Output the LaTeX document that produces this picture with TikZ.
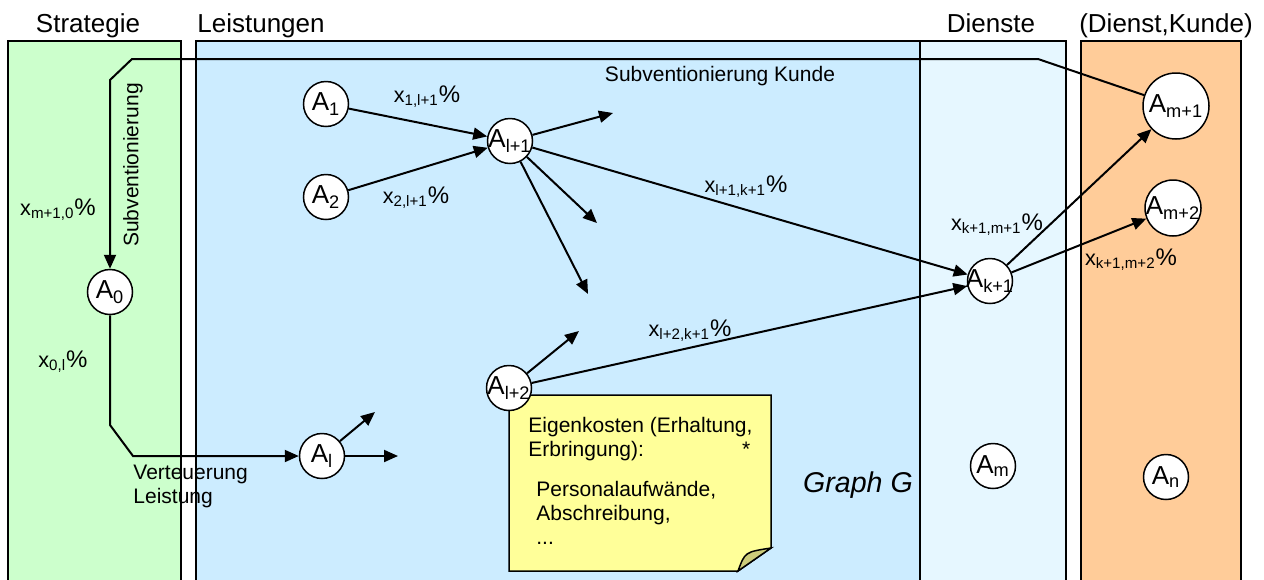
\documentclass[tikz,border=0pt]{standalone}
\usepackage{fontspec}
\setmainfont{Liberation Sans}
\usetikzlibrary{arrows.meta}

\definecolor{stratgreen}{HTML}{CCFFCC}
\definecolor{leistblue}{HTML}{CCECFF}
\definecolor{dienstblue}{HTML}{E6F7FF}
\definecolor{kundeorange}{HTML}{FFCC99}
\definecolor{noteyellow}{HTML}{FFFF99}
\definecolor{notefold}{HTML}{CCCC7A}

\newcommand{\Atext}[1]{\makebox[0pt]{A\textsubscript{#1}}}
\newcommand{\xpct}[1]{x\textsubscript{#1}{\fontsize{12}{14}\selectfont\%}}

\tikzset{
  anode/.style={circle, draw, fill=white, line width=0.75pt, minimum size=22.5pt,
    inner sep=0pt, font=\fontsize{13}{15}\selectfont},
  flow/.style={line width=1pt, -{Triangle[length=7pt, width=6pt]}},
  column/.style={draw, line width=0.75pt},
  coltitle/.style={font=\fontsize{13}{15}\selectfont, inner sep=0pt},
  lbl/.style={font=\fontsize{10.5}{12}\selectfont, inner sep=0pt},
  xlbl/.style={font=\fontsize{10.8}{12}\selectfont, inner sep=0pt, anchor=base},
}

\begin{document}
\begin{tikzpicture}[x=0.5pt, y=-0.5pt]
      \useasboundingbox (0, 0) rectangle (1264, 579);

      % columns
      \draw [column, fill=stratgreen] (8, 41) rectangle (181, 600);
      \draw [column, fill=leistblue] (196, 41) rectangle (920, 600);
      \draw [column, fill=dienstblue] (920, 41) rectangle (1066, 600);
      \draw [column, fill=kundeorange] (1081, 41) rectangle (1241, 600);

      \node [coltitle, anchor=base] (tstrat) at (88, 32) {Strategie};
      \node [coltitle, anchor=base west] (tleist) at (197, 32) {Leistungen};
      \node [coltitle, anchor=base] (tdienst) at (991, 32) {Dienste};
      \node [coltitle, anchor=base] (tkunde) at (1166, 32) {(Dienst,Kunde)};

      % note
      \draw [line width=0.75pt, fill=noteyellow] (509, 395) -- (771, 395) -- (771, 548)
            -- (738, 571) -- (509, 571) -- cycle;
      \draw [line width=0.75pt, fill=notefold] (738, 571) .. controls (745, 552) .. (771, 548) -- cycle;
      \node [lbl, anchor=north west, align=left] (ntop) at (528, 417)
            {Eigenkosten (Erhaltung,\\\makebox[111pt][l]{Erbringung):\hfill*}};
      \node [lbl, anchor=north west, align=left] (nbot) at (536, 481)
            {Personalaufwände,\\Abschreibung,\\...};

      \node [font=\fontsize{14.3}{16}\selectfont\itshape, inner sep=0pt, anchor=base] (graph) at (858, 492) {Graph G};

      % nodes
      \node [anode] (a0) at (110, 292) {\Atext{0}};
      \node [anode] (a1) at (326, 104) {\Atext{1}};
      \node [anode] (a2) at (326, 197) {\Atext{2}};
      \node [anode] (al) at (322, 456) {\Atext{l}};
      \node [anode] (al1) at (510, 141) {\Atext{l+1}};
      \node [anode] (al2) at (509, 388) {\Atext{l+2}};
      \node [anode] (ak1) at (990, 281) {\Atext{k+1}};
      \node [anode] (am) at (993, 466) {\Atext{m}};
      \node [anode, minimum size=33pt] (am1) at (1176, 106) {\Atext{m+1}};
      \node [anode, minimum size=28pt] (am2) at (1173, 208) {\Atext{m+2}};
      \node [anode] (an) at (1166, 477) {\Atext{n}};

      % free ends and bends
      \coordinate (s1) at (613, 113);
      \coordinate (s2) at (597, 223);
      \coordinate (s3) at (588, 294);
      \coordinate (s4) at (579, 331);
      \coordinate (s5) at (375, 412);
      \coordinate (s6) at (398, 456);
      \coordinate (sk1) at (1038, 59);
      \coordinate (sk2) at (132, 59);
      \coordinate (sk3) at (110, 80);
      \coordinate (vt1) at (110, 425);
      \coordinate (vt2) at (133, 456);

      % edges
      \draw [flow] (a1) -- (al1);
      \draw [flow] (a2) -- (al1);
      \foreach \t in {s1, s2, s3}
               {
                 \draw [flow] (al1) -- (\t);
               }
      \draw [flow] (al1) -- (ak1);
      \draw [flow] (al2) -- (ak1);
      \draw [flow] (al2) -- (s4);
      \draw [flow] (al) -- (s5);
      \draw [flow] (al) -- (s6);
      \draw [flow] (ak1) -- (am1);
      \draw [flow] (ak1) -- (am2);
      \draw [flow] (am1) -- (sk1) -- (sk2) -- (sk3) -- (a0);
      \draw [flow] (a0) -- (vt1) -- (vt2) -- (al);

      % labels
      \node [xlbl] (x1) at (427, 102) {\xpct{1,l+1}};
      \node [xlbl] (x2) at (416, 203) {\xpct{2,l+1}};
      \node [xlbl] (x3) at (746, 192) {\xpct{l+1,k+1}};
      \node [xlbl] (x4) at (690, 336) {\xpct{l+2,k+1}};
      \node [xlbl] (x5) at (997, 230) {\xpct{k+1,m+1}};
      \node [xlbl] (x6) at (1131, 265) {\xpct{k+1,m+2}};
      \node [xlbl] (x7) at (58, 215) {\xpct{m+1,0}};
      \node [xlbl] (x8) at (63, 367) {\xpct{0,l}};

      \node [lbl, anchor=base] (subk) at (720, 81) {Subventionierung Kunde};
      \node [lbl, rotate=90] (sub) at (133, 165) {Subventionierung};
      \node [lbl, anchor=north west, align=left] (vert) at (133, 465) {Verteuerung\\Leistung};
    \end{tikzpicture}
\end{document}
